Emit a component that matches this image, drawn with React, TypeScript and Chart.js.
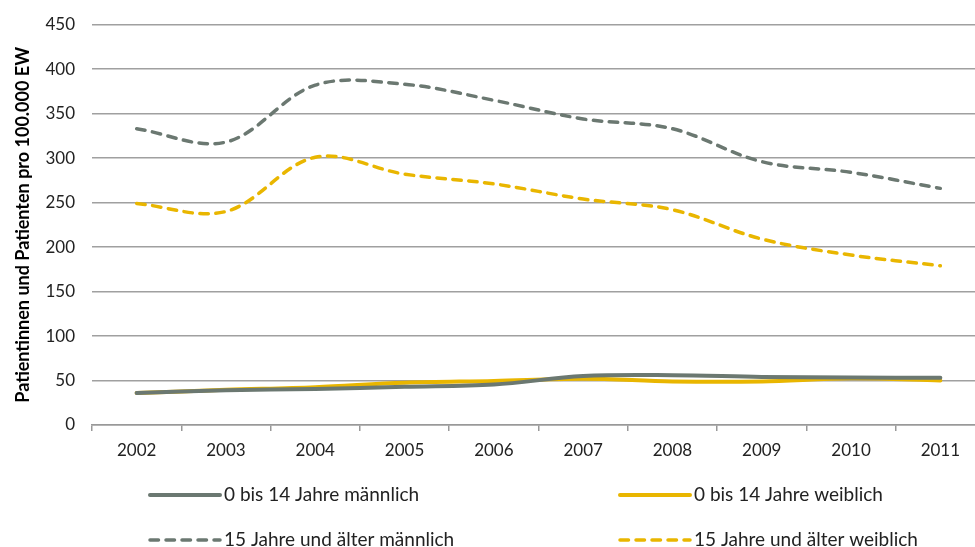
import { useEffect, useRef } from 'react';
import { Chart, registerables } from 'chart.js';

Chart.register(...registerables);

const years = ['2002', '2003', '2004', '2005', '2006', '2007', '2008', '2009', '2010', '2011'];
const boys = [36, 39, 40.5, 43, 45.5, 55, 56, 54, 53.5, 53];
const girls = [36, 39.5, 42.5, 47.5, 49.5, 52, 49, 49, 52.5, 50];
const men = [333, 318, 382, 383, 365, 344, 333, 296, 284, 266];
const women = [249, 240, 301, 282, 271, 254, 242, 209, 191, 179];
const seriesLabels = [
  '0 bis 14 Jahre männlich',
  '0 bis 14 Jahre weiblich',
  '15 Jahre und älter männlich',
  '15 Jahre und älter weiblich',
];
const yTitle = 'Patientinnen und Patienten pro 100.000 EW';

const GREY = '#6b7871';
const YELLOW = '#e9b600';
const FONT = 'Lato, "Open Sans", sans-serif';

const customLegend = {
  id: 'customLegend',
  afterDraw(chart: any) {
    const ctx = chart.ctx;
    const cols = [150, 620];
    const rows = [495, 540];
    const lineLen = 70;
    chart.data.datasets.forEach((ds: any, i: number) => {
      const x = cols[i % 2];
      const y = rows[Math.floor(i / 2)];
      ctx.save();
      ctx.strokeStyle = ds.borderColor;
      ctx.lineWidth = ds.borderWidth;
      ctx.lineCap = 'round';
      ctx.setLineDash(ds.borderDash || []);
      ctx.beginPath();
      ctx.moveTo(x, y);
      ctx.lineTo(x + lineLen, y);
      ctx.stroke();
      ctx.setLineDash([]);
      ctx.fillStyle = '#222';
      ctx.font = '19px ' + FONT;
      ctx.textBaseline = 'middle';
      ctx.textAlign = 'left';
      ctx.fillText(ds.label, x + lineLen + 4, y);
      ctx.restore();
    });
  },
};

export default function App() {
  const ref = useRef<HTMLCanvasElement | null>(null);

  useEffect(() => {
    if (!ref.current) return;
    const dashed = [8.5, 7.5];
    const chart = new Chart(ref.current, {
      type: 'line',
      data: {
        labels: years,
        datasets: [
          { label: seriesLabels[0], data: boys, borderColor: GREY, borderWidth: 4 },
          { label: seriesLabels[1], data: girls, borderColor: YELLOW, borderWidth: 4 },
          { label: seriesLabels[2], data: men, borderColor: GREY, borderWidth: 3.5, borderDash: dashed },
          { label: seriesLabels[3], data: women, borderColor: YELLOW, borderWidth: 3.5, borderDash: dashed },
        ],
      },
      options: {
        animation: false,
        responsive: false,
        layout: { padding: { top: 24, right: 15, bottom: 82, left: 0 } },
        elements: {
          point: { radius: 0 },
          line: { tension: 0.35, borderCapStyle: 'round', fill: false },
        },
        plugins: {
          legend: { display: false },
          tooltip: { enabled: false },
        },
        scales: {
          x: {
            offset: true,
            grid: {
              display: true,
              offset: true,
              drawOnChartArea: false,
              drawTicks: true,
              tickLength: 6,
              color: '#999',
              lineWidth: 1.5,
            },
            border: { display: true, color: '#999', width: 1.5 },
            ticks: { color: '#222', font: { family: FONT, size: 17 }, padding: 9 },
            afterFit(s: any) {
              s.height = 40;
            },
          },
          y: {
            min: 0,
            max: 450,
            ticks: { stepSize: 50, color: '#222', font: { family: FONT, size: 17, lineHeight: 0.9 }, padding: 17 },
            grid: { color: '#a0a0a0', lineWidth: 1.5, drawTicks: false },
            border: { display: false },
            title: {
              display: true,
              text: yTitle,
              color: '#000',
              font: { family: FONT, size: 18, weight: 'bold' },
              padding: { top: 12, bottom: 0 },
            },
            afterFit(s: any) {
              s.width = 92;
            },
          },
        },
      },
      plugins: [customLegend],
    });
    return () => chart.destroy();
  }, []);

  return (
    <div style={{ position: 'absolute', left: 0, top: 0, width: 975, height: 547, overflow: 'hidden', background: '#fff' }}>
      <canvas ref={ref} width={1000} height={547} />
    </div>
  );
}
